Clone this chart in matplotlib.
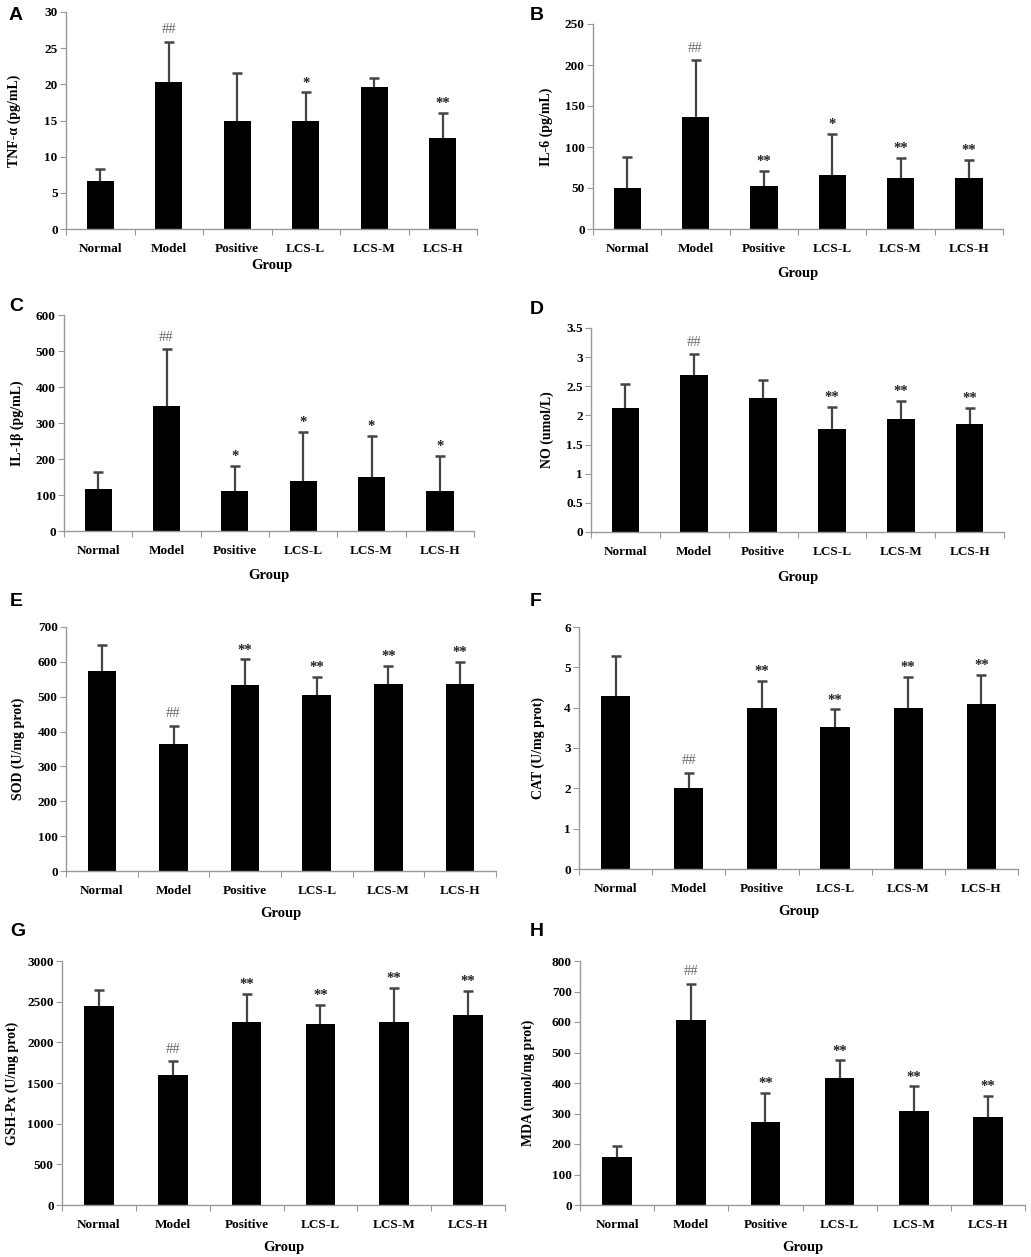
import matplotlib
matplotlib.use("Agg")
import matplotlib.pyplot as plt
import numpy as np

plt.rcParams['font.family'] = ['Liberation Serif', 'DejaVu Serif']

# groups shared by all panels
groups = ["Normal", "Model", "Positive", "LCS-L", "LCS-M", "LCS-H"]

# panel A: TNF-alpha
tnf_mean = [6.7, 20.3, 15.0, 15.0, 19.7, 12.6]
tnf_sd = [1.6, 5.6, 6.5, 3.9, 1.2, 3.4]
tnf_sig = ["", "##", "", "*", "", "**"]

# panel B: IL-6
il6_mean = [50, 137, 52, 65.5, 62.7, 62.7]
il6_sd = [37.5, 68.8, 18.8, 50.1, 23.6, 22.0]
il6_sig = ["", "##", "**", "*", "**", "**"]

# panel C: IL-1beta
il1b_mean = [118, 347, 112, 139, 149, 112]
il1b_sd = [47, 158, 69, 136, 115, 96]
il1b_sig = ["", "##", "*", "*", "*", "*"]

# panel D: NO
no_mean = [2.12, 2.69, 2.30, 1.77, 1.94, 1.85]
no_sd = [0.42, 0.36, 0.30, 0.38, 0.31, 0.28]
no_sig = ["", "##", "", "**", "**", "**"]

# panel E: SOD
sod_mean = [574, 364, 534, 505, 536, 536]
sod_sd = [74, 52, 73, 52, 52, 65]
sod_sig = ["", "##", "**", "**", "**", "**"]

# panel F: CAT
cat_mean = [4.30, 2.01, 3.98, 3.51, 3.98, 4.08]
cat_sd = [0.99, 0.38, 0.69, 0.45, 0.79, 0.74]
cat_sig = ["", "##", "**", "**", "**", "**"]

# panel G: GSH-Px
gsh_mean = [2444, 1598, 2256, 2228, 2256, 2334]
gsh_sd = [205, 168, 344, 232, 409, 294]
gsh_sig = ["", "##", "**", "**", "**", "**"]

# panel H: MDA
mda_mean = [158, 605, 272, 415, 308, 287]
mda_sd = [34, 120, 95, 59, 81, 70]
mda_sig = ["", "##", "**", "**", "**", "**"]

W, H = 1031, 1257
fig = plt.figure(figsize=(W / 100, H / 100), dpi=100)


def rect(x0, y0, x1, y1):
    return [x0 / W, 1 - y1 / H, (x1 - x0) / W, (y1 - y0) / H]


def panel(box, mean, sd, sig, ymax, ystep, ylabel, letter, letter_xy,
          ylab_x, grp_y):
    ax = fig.add_axes(rect(*box))
    x = np.arange(len(groups)) + 0.5
    mean = np.array(mean, dtype=float)
    sd = np.array(sd, dtype=float)
    ax.bar(x, mean, width=0.4, color="black", zorder=2)
    # upper error bars only: stem + cap
    ax.errorbar(x, mean, yerr=[np.zeros(len(sd)), sd], fmt="none",
                ecolor="#444444", elinewidth=1.6, capsize=0, zorder=1)
    ax.plot(x, mean + sd, ls="none", marker="_", ms=7, mew=1.8,
            color="#444444", zorder=1)
    for xi, top, t in zip(x, mean + sd, sig):
        if not t:
            continue
        if t == "##":
            ax.annotate(t, (xi, top), xytext=(0, 4), textcoords="offset points",
                        ha="center", va="bottom", fontsize=10.5, color="#6a6a6a")
        else:
            ax.annotate(t, (xi, top), xytext=(0, 2), textcoords="offset points",
                        ha="center", va="bottom", fontsize=10.5, color="#222222",
                        fontweight="bold")
    ax.set_xlim(0, len(groups))
    ax.set_ylim(0, ymax)
    ticks = np.arange(0, ymax + ystep / 2, ystep)
    ax.set_yticks(ticks)
    ax.set_yticklabels(["{:g}".format(t) for t in ticks], fontsize=9.5,
                       fontweight="bold")
    ax.set_xticks(np.arange(len(groups) + 1))
    ax.set_xticklabels([])
    ax.set_xticks(x, minor=True)
    ax.set_xticklabels(groups, minor=True, fontsize=9.5, fontweight="bold")
    ax.tick_params(axis="x", which="minor", length=0, pad=10)
    ax.tick_params(axis="x", which="major", length=4, color="#999999", direction="out")
    ax.tick_params(axis="y", length=4, color="#999999", direction="out", pad=2)
    for side in ("top", "right"):
        ax.spines[side].set_visible(False)
    for side in ("left", "bottom"):
        ax.spines[side].set_color("#999999")
        ax.spines[side].set_linewidth(1.0)
    ylab_y = 1 - (box[1] + box[3]) / 2 / H
    fig.text(ylab_x / W, ylab_y, ylabel, rotation=90, ha="center", va="center",
             fontsize=10, fontweight="bold")
    fig.text((box[0] + box[2]) / 2 / W, 1 - grp_y / H, "Group", ha="center",
             va="center", fontsize=10.5, fontweight="bold")
    fig.text(letter_xy[0] / W, 1 - letter_xy[1] / H, letter, ha="left", va="top",
             fontsize=14, fontweight="bold", family=["Liberation Sans", "DejaVu Sans"])
    return ax


panel((66, 12, 477, 229), tnf_mean, tnf_sd, tnf_sig, 30, 5,
      "TNF-\u03b1 (pg/mL)", "A", (9, 7), 14, 265)
panel((593, 24, 1003, 229), il6_mean, il6_sd, il6_sig, 250, 50,
      "IL-6 (pg/mL)", "B", (530, 7), 546, 273)
panel((64, 315, 474, 531), il1b_mean, il1b_sd, il1b_sig, 600, 100,
      "IL-1\u03b2 (pg/mL)", "C", (9, 298), 17, 575)
panel((591, 328, 1004, 532), no_mean, no_sd, no_sig, 3.5, 0.5,
      "NO (umol/L)", "D", (530, 301), 547, 578)
panel((66, 627, 496, 871), sod_mean, sod_sd, sod_sig, 700, 100,
      "SOD (U/mg prot)", "E", (10, 593), 18, 913)
panel((579, 627, 1018, 869), cat_mean, cat_sd, cat_sig, 6, 1,
      "CAT (U/mg prot)", "F", (530, 593), 538, 912)
panel((62, 961, 505, 1205), gsh_mean, gsh_sd, gsh_sig, 3000, 500,
      "GSH-Px (U/mg prot)", "G", (10, 923), 12, 1247)
panel((580, 961, 1025, 1205), mda_mean, mda_sd, mda_sig, 800, 100,
      "MDA (nmol/mg prot)", "H", (530, 923), 528, 1247)

fig.savefig("out.png", dpi=100)
